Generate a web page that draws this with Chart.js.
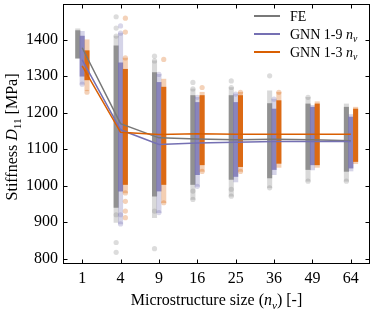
<!DOCTYPE html>
<html>
<head>
<meta charset="utf-8">
<script src="https://cdn.jsdelivr.net/npm/chart.js@4.4.1/dist/chart.umd.min.js"></script>
<style>html,body{margin:0;padding:0;background:#fff;}canvas{display:block;}</style>
</head>
<body>
<canvas id="c" width="374" height="313"></canvas>
<script>
// ---- data ----
const categories = ['1', '4', '9', '16', '25', '36', '49', '64'];
const yTicks = [800, 900, 1000, 1100, 1200, 1300, 1400];

// mean lines
const feMean   = [1378, 1170, 1131, 1128, 1126, 1127, 1126, 1123];
const gnn9Mean = [1345, 1153, 1113, 1117, 1119, 1121, 1121, 1121];
const gnn3Mean = [1328, 1146, 1140, 1142, 1141, 1141, 1141, 1141];

// dense part of each sample cloud (low / high)
const feCoreLo   = [1350,  940,  971, 1003, 1017, 1021, 1044, 1039];
const feCoreHi   = [1425, 1383, 1310, 1247, 1247, 1225, 1224, 1215];
const gnn9CoreLo = [1300,  985,  985, 1030, 1025, 1044, 1057, 1048];
const gnn9CoreHi = [1410, 1337, 1283, 1228, 1228, 1210, 1215, 1188];
const gnn3CoreLo = [1290, 1003, 1003, 1057, 1052, 1061, 1057, 1066];
const gnn3CoreHi = [1370, 1319, 1270, 1247, 1247, 1233, 1224, 1210];

// sparse extent of each sample cloud (min / max)
const feMin   = [1348,  899,  912,  962,  971,  994, 1012, 1012];
const feMax   = [1430, 1410, 1342, 1265, 1269, 1260, 1242, 1224];
const gnn9Min = [1278,  895,  926,  998, 1010, 1030, 1043, 1040];
const gnn9Max = [1423, 1418, 1305, 1242, 1251, 1237, 1220, 1195];
const gnn3Min = [1260,  980,  953, 1039, 1039, 1050, 1050, 1060];
const gnn3Max = [1400, 1350, 1292, 1256, 1256, 1256, 1230, 1215];

// isolated samples: [category index, value]
const feOutliers   = [[1,1463],[1,1432],[1,1410],[1,844],[1,817],[1,920],[2,1355],[2,1342],[2,827],[2,930],[3,1283],[3,1265],[3,985],[3,962],[4,1287],[4,1269],[4,990],[4,971],[5,1301],[5,994],[6,1242],[6,1012],[7,1012]];
const gnn9Outliers = [[0,1278],[1,1438],[1,1418],[1,895],[1,920],[2,1305],[2,926],[3,1242],[3,998],[4,1251],[5,1237]];
const gnn3Outliers = [[0,1256],[1,1459],[1,1421],[1,1350],[1,980],[1,957],[1,930],[1,912],[2,1346],[2,953],[3,1269],[3,1039],[4,1256],[4,1039],[5,1256]];

// ---- styling ----
const GRAY = [128,128,128], PURP = [117,112,179], ORNG = [217,95,2];
const rgba = (c, a) => `rgba(${c[0]},${c[1]},${c[2]},${a})`;
const OFF = {fe: -0.115, g9: 0.0, g3: 0.125};
const FONT = "'Liberation Serif', 'DejaVu Serif', serif";

function bars(lo, hi, off, color, alpha, order) {
  return {
    type: 'bar', order: order, grouped: false, barPercentage: 1.25, borderWidth: 0,
    backgroundColor: rgba(color, alpha),
    data: lo.map((v, i) => ({x: i + off, y: [v, hi[i]]}))
  };
}
function pts(list, off, color, order) {
  return {
    type: 'scatter', order: order, pointRadius: 2.6, borderWidth: 0,
    backgroundColor: rgba(color, 0.28),
    data: list.map(p => ({x: p[0] + off, y: p[1]}))
  };
}
function line(vals, color, order) {
  return {
    type: 'line', order: order, borderColor: color, borderWidth: 1.5,
    pointRadius: 0, tension: 0, fill: false,
    data: vals.map((v, i) => ({x: i, y: v}))
  };
}

const datasets = [
  line(feMean, 'rgb(120,120,120)', 2),
  line(gnn9Mean, rgba(PURP,1), 1),
  line(gnn3Mean, rgba(ORNG,1), 0),
  bars(gnn3CoreLo, gnn3CoreHi, OFF.g3, ORNG, 0.9, 10),
  bars(gnn3Min, gnn3Max, OFF.g3, ORNG, 0.3, 11),
  pts(gnn3Outliers, OFF.g3, ORNG, 12),
  bars(gnn9CoreLo, gnn9CoreHi, OFF.g9, PURP, 0.8, 20),
  bars(gnn9Min, gnn9Max, OFF.g9, PURP, 0.3, 21),
  pts(gnn9Outliers, OFF.g9, PURP, 22),
  bars(feCoreLo, feCoreHi, OFF.fe, GRAY, 0.8, 30),
  bars(feMin, feMax, OFF.fe, GRAY, 0.3, 31),
  pts(feOutliers, OFF.fe, GRAY, 32)
];

function measureRich(ctx, segs, size) {
  let total = 0;
  const parts = segs.map(s => {
    const fs = s[2] ? size * 0.7 : size;
    const f = (s[1] ? 'italic ' : '') + fs + 'px ' + FONT;
    ctx.font = f;
    const w = ctx.measureText(s[0]).width;
    total += w;
    return {t: s[0], f: f, w: w, sub: s[2]};
  });
  return {parts, total};
}
function paintRich(ctx, rich, x, y, size, align) {
  let cx = align === 'left' ? x : x - rich.total / 2;
  ctx.textBaseline = 'alphabetic';
  ctx.textAlign = 'left';
  rich.parts.forEach(p => {
    ctx.font = p.f;
    ctx.fillText(p.t, cx, p.sub ? y + size * 0.22 : y);
    cx += p.w;
  });
}

const decor = {
  id: 'decor',
  afterDraw(chart) {
    const ctx = chart.ctx, a = chart.chartArea;
    const xs = chart.scales.x, ys = chart.scales.y;
    ctx.save();
    ctx.strokeStyle = '#000';
    ctx.lineWidth = 1;
    const L = Math.round(a.left) + 0.5, R = Math.round(a.right) - 0.5;
    const T = Math.round(a.top) + 0.5, B = Math.round(a.bottom) - 0.5;
    ctx.strokeRect(L, T, R - L, B - T);
    ctx.beginPath();
    categories.forEach((c, i) => {
      const px = Math.round(xs.getPixelForValue(i)) + 0.5;
      ctx.moveTo(px, B); ctx.lineTo(px, B - 4);
      ctx.moveTo(px, T); ctx.lineTo(px, T + 4);
    });
    yTicks.forEach(v => {
      const py = Math.round(ys.getPixelForValue(v)) + 0.5;
      ctx.moveTo(L, py); ctx.lineTo(L + 4, py);
      ctx.moveTo(R, py); ctx.lineTo(R - 4, py);
    });
    ctx.stroke();

    ctx.fillStyle = '#000';
    // x title
    const xt = measureRich(ctx, [['Microstructure size (', false, false], ['n', true, false], ['v', true, true], [') [-]', false, false]], 16);
    paintRich(ctx, xt, (a.left + a.right) / 2, 305, 16, 'center');
    // y title
    ctx.save();
    ctx.translate(17, (a.top + a.bottom) / 2 + 3);
    ctx.rotate(-Math.PI / 2);
    const yt = measureRich(ctx, [['Stiffness ', false, false], ['D', true, false], ['11', false, true], [' [MPa]', false, false]], 16);
    paintRich(ctx, yt, 0, 0, 16, 'center');
    ctx.restore();

    // legend
    const items = [
      {c: 'rgb(120,120,120)', segs: [['FE', false, false]]},
      {c: rgba(PURP,1), segs: [['GNN 1-9 ', false, false], ['n', true, false], ['v', true, true]]},
      {c: rgba(ORNG,1), segs: [['GNN 1-3 ', false, false], ['n', true, false], ['v', true, true]]}
    ];
    items.forEach((it, k) => {
      const cy = 16 + k * 18;
      ctx.strokeStyle = it.c; ctx.lineWidth = 2;
      ctx.beginPath(); ctx.moveTo(254, cy); ctx.lineTo(280, cy); ctx.stroke();
      ctx.fillStyle = '#000';
      const r = measureRich(ctx, it.segs, 14);
      paintRich(ctx, r, 290, cy + 4.5, 14, 'left');
    });
    ctx.restore();
  }
};

new Chart(document.getElementById('c'), {
  type: 'bar',
  data: {datasets: datasets},
  options: {
    responsive: false, animation: false, devicePixelRatio: 1,
    layout: {padding: {top: 1, right: 1, left: 0, bottom: 0}},
    plugins: {legend: {display: false}, tooltip: {enabled: false}},
    scales: {
      x: {
        type: 'linear', min: -0.5, max: 7.5, offset: false,
        afterBuildTicks: s => { s.ticks = categories.map((c, i) => ({value: i})); },
        afterFit: s => { s.height = 49; s.paddingLeft = 0; s.paddingRight = 0; },
        ticks: {callback: v => categories[v], font: {family: FONT, size: 16}, color: '#000', padding: 5, maxRotation: 0, autoSkip: false},
        grid: {display: false, drawTicks: false},
        border: {display: false}
      },
      y: {
        type: 'linear', min: 785, max: 1498,
        afterBuildTicks: s => { s.ticks = yTicks.map(v => ({value: v})); },
        afterFit: s => { s.width = 63; s.paddingTop = 0; s.paddingBottom = 0; },
        ticks: {callback: v => String(v), font: {family: FONT, size: 16}, color: '#000', padding: 5},
        grid: {display: false, drawTicks: false},
        border: {display: false}
      }
    }
  },
  plugins: [decor]
});
</script>
</body>
</html>
